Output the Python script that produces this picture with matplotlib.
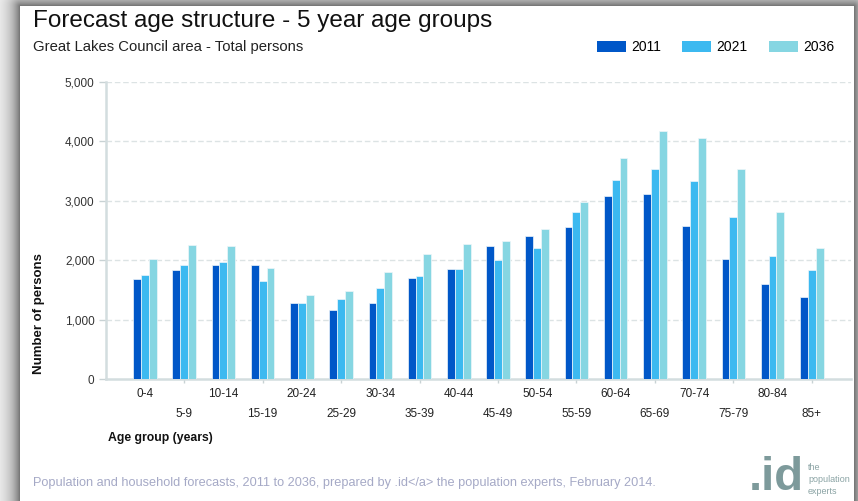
import numpy as np
import matplotlib
matplotlib.use('Agg')
import matplotlib.pyplot as plt
from matplotlib.patches import Patch
from matplotlib.ticker import FuncFormatter

plt.rcParams['font.family'] = ['Liberation Sans', 'DejaVu Sans']

ages = ['0-4', '5-9', '10-14', '15-19', '20-24', '25-29', '30-34', '35-39', '40-44',
        '45-49', '50-54', '55-59', '60-64', '65-69', '70-74', '75-79', '80-84', '85+']
persons_2011 = [1690, 1830, 1930, 1920, 1290, 1160, 1290, 1710, 1860,
                2240, 2410, 2560, 3080, 3110, 2570, 2030, 1610, 1390]
persons_2021 = [1760, 1920, 1980, 1650, 1290, 1350, 1540, 1730, 1850,
                2000, 2200, 2810, 3350, 3540, 3330, 2730, 2070, 1830]
persons_2036 = [2030, 2260, 2240, 1880, 1410, 1480, 1800, 2100, 2280,
                2330, 2520, 2990, 3730, 4170, 4050, 3540, 2820, 2200]
years = ['2011', '2021', '2036']
colors = ['#0057c8', '#3cb9f0', '#86d6e2']

W, H = 858, 501
fig = plt.figure(figsize=(W / 100, H / 100), dpi=100)

# soft drop shadow around the white card
bg = fig.add_axes([0, 0, 1, 1], zorder=-10)
yy, xx = np.mgrid[0:H, 0:W] + 0.5
dx = np.maximum(np.maximum(20 - xx, xx - 854), 0)
dy = np.maximum(6 - yy, 0)
d = np.hypot(dx, dy)
shade = np.where((dx > 0) | (dy > 0), 1 - 0.55 * np.exp(-d / 11), 1.0)
bg.imshow(np.dstack([shade] * 3), extent=(0, W, H, 0), aspect='auto', interpolation='bilinear')
bg.axis('off')

ax = fig.add_axes([105.7 / W, (H - 379.3) / H, (851 - 105.7) / W, (379.3 - 82) / H])
ax.patch.set_alpha(0)

x = np.arange(len(ages))
width = 0.2
for i, (vals, c) in enumerate(zip([persons_2011, persons_2021, persons_2036], colors)):
    ax.bar(x + (i - 1) * width, vals, width, color=c, edgecolor='#eef6fa', linewidth=0.5, zorder=3)

ax.set_xlim(-1, len(ages))
ax.set_ylim(0, 5000)
ax.set_yticks(range(0, 5001, 1000))
ax.yaxis.set_major_formatter(FuncFormatter(lambda v, p: f'{int(v):,}'))
for v in range(1000, 5001, 1000):
    ax.axhline(v, color='#dce3e4', lw=1, ls=(0, (4, 2)), zorder=1)

for s in ['top', 'right']:
    ax.spines[s].set_visible(False)
for s in ['left', 'bottom']:
    ax.spines[s].set_color('#d3dddf')
    ax.spines[s].set_linewidth(1.8)

ax.tick_params(axis='y', length=5, width=1, color='#c8d2d4', labelsize=8.5, labelcolor='#333333', pad=3)

# two staggered rows of age group labels
ax.set_xticks(x[::2], ages[::2])
ax.set_xticks(x[1::2], ages[1::2], minor=True)
ax.tick_params(axis='x', which='major', length=0, pad=6, labelsize=8.5, labelcolor='#222222')
ax.tick_params(axis='x', which='minor', length=3, width=1, color='#c8d2d4', pad=18,
               labelsize=8.5, labelcolor='#222222')

fig.text(33 / W, 1 - 21 / H, 'Forecast age structure - 5 year age groups',
         fontsize=17.5, color='#111111', va='center', ha='left')
fig.text(33 / W, 1 - 47 / H, 'Great Lakes Council area - Total persons',
         fontsize=10.7, color='#222222', va='center', ha='left')

handles = [Patch(facecolor=c, edgecolor='none') for c in colors]
fig.legend(handles, years, loc='upper left', bbox_to_anchor=(597 / W, 1 - 40 / H), ncol=3,
           frameon=False, fontsize=10, handlelength=2.1, handleheight=0.86,
           handletextpad=0.38, columnspacing=1.5, borderpad=0, borderaxespad=0)

fig.text(39 / W, 1 - 314 / H, 'Number of persons', rotation=90, fontsize=9.5,
         fontweight='bold', color='#111111', va='center', ha='center')
fig.text(108 / W, 1 - 438 / H, 'Age group (years)', fontsize=8.8,
         fontweight='bold', color='#111111', va='center', ha='left')

fig.text(33 / W, 1 - 483 / H,
         'Population and household forecasts, 2011 to 2036, prepared by .id</a> the population experts, February 2014.',
         fontsize=9.2, color='#a5a9c6', va='center', ha='left')

# .id logo
fig.text(749 / W, 1 / H, '.id', fontsize=34, fontweight='bold', color='#7d9a9b',
         va='bottom', ha='left')
for k, word in enumerate(['the', 'population', 'experts']):
    fig.text(808 / W, 1 - (467 + 12.5 * k) / H, word, fontsize=6.5, color='#8aa3a4',
             va='center', ha='left')

fig.savefig('out.png', dpi=100)
